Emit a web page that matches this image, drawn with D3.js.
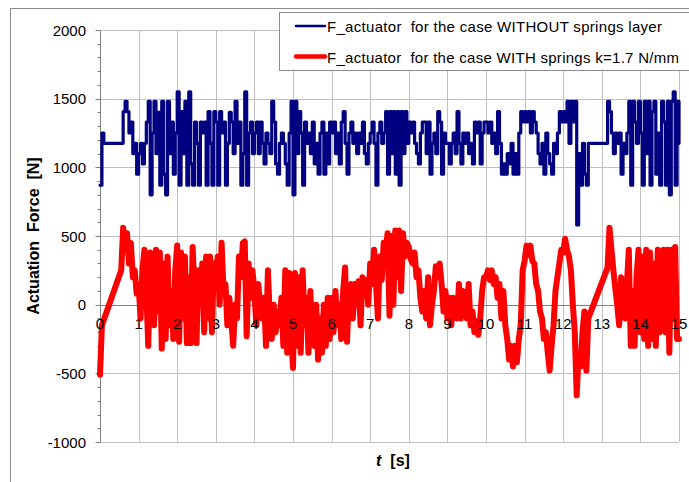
<!DOCTYPE html>
<html>
<head>
<meta charset="utf-8">
<script src="https://cdn.jsdelivr.net/npm/d3@7"></script>
<style>
    body { margin: 0; background: white; }
    text { font-family: "Liberation Sans", Arial, sans-serif; }
</style>
</head>
<body>
<div id="chart"></div>
<script>

// 1. Data (sampled every 0.05 s, null = no sample, line jumps straight across)

const tStep = 0.05;

const forceWithout = [
    // 0 s
    870, 1250, 1175, 1175, 1175, 1175, 1175, 1175, 1175, 1175, 1175, 1175, 1405, 1480, 1405, 1250, 1330, 1100, 1175, 950,
    // 1 s
    1100, 1175, 1025, 1175, 1330, 1480, 800, 1250, 1480, 1100, 1400, 870, 1480, 950, 800, 1480, 1100, 1330, 950, 1250,
    // 2 s
    1550, 870, 1405, 1100, 1480, 870, 1550, 1025, 870, 1330, 1175, 870, 1330, 1250, 1330, 870, 1405, 1175, 870, 1405,
    // 3 s
    1330, 870, 1405, 1250, 1330, 870, 1175, 1400, 1330, 1100, 1480, 1175, 1330, 870, 1100, 1550, 870, 1250, 1330, 1100,
    // 4 s
    1250, 1330, 1100, 1330, 1175, 1025, 1250, 1175, 1100, 1480, 1330, 1025, 950, 1175, 1250, 1175, 1025, 870, 1250, 1480,
    // 5 s
    800, 1480, 1100, 1405, 1250, 870, 1330, 1175, 1250, 1100, 1330, 1025, 1175, 950, 1250, 1330, 950, 1250, 1025, 1330,
    // 6 s
    1250, 1330, 1100, 1250, 1025, 1330, 1405, 1175, 950, 1250, 1330, 1175, 1250, 1100, 1250, 1175, 1330, 1100, 1025, 1175,
    // 7 s
    1250, 1330, 1175, 870, 1250, 1330, 1175, 1250, 1405, 950, 1405, 1100, 1405, 950, 1405, 870, 1405, 1100, 1405, 1175,
    // 8 s
    1330, 1250, 1330, 1175, 1100, 1025, 1250, 1330, 1330, 1100, 1330, 950, 1175, 1250, 1100, 1405, 1330, 950, 1250, 1175,
    // 9 s
    1175, 1025, 1175, 1250, 1100, 1405, 1175, 1025, 1250, 1175, 1250, 1100, 1175, 1025, 1330, 1250, 1330, 1025, 1250, 1330,
    // 10 s
    1330, 1250, 1330, 1175, 1250, 1100, 1405, 1175, 950, 1025, 950, 1100, 1025, 1175, 950, 1100, 950, 1250, 1405, 1330,
    // 11 s
    1405, 1330, 1405, 1250, 1405, 1330, 1250, 1100, 1025, 1175, 950, 1250, 1100, 1025, 950, 1175, 1100, 1250, 1405, 1330,
    // 12 s
    1405, 1330, 1480, 1175, 1480, 1330, 1480, 580, 1100, 870, 1175, 950, 870, 1175, 1175, 1175, 1175, 1175, 1175, 1175,
    // 13 s
    1175, 1175, 1175, 1480, 1405, 1250, 1100, 1250, 1175, 1250, 950, 1175, 1100, 1250, 1480, 870, 1480, 1330, 1175, 1480,
    // 14 s
    1250, 870, 1480, 1100, 1480, 870, 1405, 1480, 950, 1250, 870, 1480, 1330, 870, 1480, 800, 1480, 1550, 870, 1480,
    // 15 s
    1175
];

const forceWith = [
    // 0 s
    -510, -150, null, null, null, null, null, null, null, null, null, 250, 560, 400, 520, 300, 450, 200, 250, 80,
    // 1 s
    150, -100, 250, 400, 100, -300, 380, 50, -150, 400, -50, 380, -320, 300, -250, 350, -150, 100, -250, 250,
    // 2 s
    430, -270, 380, -100, 350, -280, 200, -280, 420, 100, -280, 250, 0, 300, -200, 350, -100, 350, -200, 300,
    // 3 s
    250, 350, 0, 450, 100, 150, -150, 50, -100, -300, 0, -100, 350, 200, 450, 460, -230, 300, 50, 250,
    // 4 s
    100, -150, 150, 0, -100, 50, -300, 250, -100, -250, 0, -200, -50, -150, 50, -300, 250, -350, 230, -200,
    // 5 s
    -460, 230, -300, 200, -350, 250, -150, 50, -350, 100, -200, -300, 0, -400, -100, -350, 0, -300, 50, -250,
    // 6 s
    50, -200, 100, -150, 0, -250, 100, 270, -270, 100, 150, -100, 150, 0, 170, -150, 200, 100, 180, 0,
    // 7 s
    300, 150, 400, 150, -100, 350, 180, 450, 380, 520, -80, 500, 0, 540, 200, 540, 100, 520, 350, 450,
    // 8 s
    420, 330, 300, 380, 200, 250, 50, -50, 100, -100, 200, -150, 0, 100, 280, 200, 300, 150, -50, 100,
    // 9 s
    -100, 50, -150, 50, -50, -100, 150, -100, 100, 0, -100, 150, -150, -50, -200, -120, -220, -100, 100, 200,
    // 10 s
    200, 250, 180, 250, 150, 200, 50, 150, -100, 100, -150, -250, -400, -300, -450, -300, -420, -250, -150, 250,
    // 11 s
    320, 430, 360, 430, 320, 300, 150, 100, -50, -100, -250, -200, -350, -480, -300, -150, 100, 200, 300, 400,
    // 12 s
    380, 480, 400, 350, 250, 0, -200, -660, -350, -450, -200, -50, -480, -100, null, null, null, null, null, null,
    // 13 s
    null, null, null, 270, 560, 400, 250, 120, 0, -150, 200, 100, -100, 150, 400, -300, 100, -300, 200, 400,
    // 14 s
    -200, 350, -250, 400, -300, 380, -250, 300, -300, 400, -200, 100, 400, -200, 400, -350, 400, -100, 420, -250,
    // 15 s
    -250
];

const xTickValues = [0, 1, 2, 3, 4, 5, 6, 7, 8, 9, 10, 11, 12, 13, 14, 15];
const yTickValues = [-1000, -500, 0, 500, 1000, 1500, 2000];
const yMinorValues = d3.range(-1000, 2001, 100);

const seriesNames = [
    "F_actuator  for the case WITHOUT springs layer",
    "F_actuator  for the case WITH springs k=1.7 N/mm"
];
const seriesColors = ["#000080", "#ff0000"];
const seriesWidths = [3.2, 6];
const legendTextWidths = [335, 352];

// 2. Dimensions

const dimensions = {
    width: 689,
    height: 482,
    margin: { top: 30, right: 10, bottom: 40, left: 100 },
};
dimensions.plotRight = 679;
dimensions.plotBottom = 442;

// 3. Canvas

const chart = d3.select("#chart")
    .append("svg")
    .attr("width", dimensions.width)
    .attr("height", dimensions.height);

// outer frame (runs off the right and bottom edge)
chart.append("rect")
    .attr("x", 10.5)
    .attr("y", 8.5)
    .attr("width", 720)
    .attr("height", 520)
    .attr("fill", "white")
    .attr("stroke", "#8c8c8c");

// 4. Scales

const xScale = d3.scaleLinear()
    .domain([0, 15])
    .range([dimensions.margin.left, dimensions.plotRight]);

const yScale = d3.scaleLinear()
    .domain([-1000, 2000])
    .range([dimensions.plotBottom, dimensions.margin.top]);

// 5. Grid and axes

const grid = chart.append("g");

grid.selectAll("line.vgrid")
    .data(xTickValues.filter(d => d > 0))
    .join("line")
    .attr("class", "vgrid")
    .attr("x1", d => Math.round(xScale(d)) + 0.5)
    .attr("x2", d => Math.round(xScale(d)) + 0.5)
    .attr("y1", yScale(2000))
    .attr("y2", yScale(-1000))
    .attr("stroke", "#c0c0c0")
    .attr("stroke-width", 1);

grid.selectAll("line.hgrid")
    .data(yTickValues.filter(d => d !== 0))
    .join("line")
    .attr("class", "hgrid")
    .attr("x1", xScale(0))
    .attr("x2", xScale(15))
    .attr("y1", d => Math.round(yScale(d)) + 0.5)
    .attr("y2", d => Math.round(yScale(d)) + 0.5)
    .attr("stroke", "#c0c0c0")
    .attr("stroke-width", 1);

// y axis with major and minor ticks
const yAxis = chart.append("g")
    .attr("transform", `translate(${xScale(0) + 0.5}, 0.5)`);

yAxis.append("line")
    .attr("y1", yScale(2000))
    .attr("y2", yScale(-1000))
    .attr("stroke", "#808080");

yAxis.selectAll("line.minor")
    .data(yMinorValues)
    .join("line")
    .attr("class", "minor")
    .attr("x1", d => yTickValues.includes(d) ? -5 : -3)
    .attr("x2", 0)
    .attr("y1", d => Math.round(yScale(d)))
    .attr("y2", d => Math.round(yScale(d)))
    .attr("stroke", "#808080");

chart.selectAll("text.ytick")
    .data(yTickValues)
    .join("text")
    .attr("class", "ytick")
    .attr("x", 86)
    .attr("y", d => yScale(d) + 5.5)
    .attr("text-anchor", "end")
    .style("font-size", "15px")
    .style("fill", "#000")
    .text(d => d);

// x axis sits on the zero line
chart.append("line")
    .attr("x1", xScale(0))
    .attr("x2", xScale(15))
    .attr("y1", Math.round(yScale(0)) + 0.5)
    .attr("y2", Math.round(yScale(0)) + 0.5)
    .attr("stroke", "#808080");

// 6. Data lines

const toPoints = values => values
    .map((v, i) => ({ t: i * tStep, v }))
    .filter(d => d.v !== null);

// the actuator without springs switches between discrete levels -> steps
const lineSteps = d3.line()
    .x(d => xScale(d.t))
    .y(d => yScale(d.v))
    .curve(d3.curveStepAfter);

const lineStraight = d3.line()
    .x(d => xScale(d.t))
    .y(d => yScale(d.v));

const lineGens = [lineSteps, lineStraight];

[forceWithout, forceWith].forEach((values, i) => {
    chart.append("path")
        .datum(toPoints(values))
        .attr("d", lineGens[i])
        .attr("fill", "none")
        .attr("stroke", seriesColors[i])
        .attr("stroke-width", seriesWidths[i])
        .attr("stroke-linejoin", "round")
        .attr("stroke-linecap", "round");
});

// x tick labels drawn over the lines, just under the zero line
chart.selectAll("text.xtick")
    .data(xTickValues)
    .join("text")
    .attr("class", "xtick")
    .attr("x", d => xScale(d))
    .attr("y", yScale(0) + 24)
    .attr("text-anchor", "middle")
    .style("font-size", "15px")
    .style("fill", "#000")
    .text(d => d);

// 7. Titles

chart.append("text")
    .attr("transform", `translate(39, 236) rotate(-90)`)
    .attr("text-anchor", "middle")
    .style("font-size", "16px")
    .style("font-weight", "bold")
    .style("white-space", "pre")
    .text("Actuation  Force  [N]");

const xTitle = chart.append("text")
    .attr("x", 393)
    .attr("y", 466)
    .attr("text-anchor", "middle")
    .style("font-size", "16px")
    .style("font-weight", "bold")
    .style("white-space", "pre");
xTitle.append("tspan").style("font-style", "italic").text("t");
xTitle.append("tspan").text("  [s]");

// 8. Legend

const legend = chart.append("g");

legend.append("rect")
    .attr("x", 279.5)
    .attr("y", 12.5)
    .attr("width", 420)
    .attr("height", 58)
    .attr("fill", "white")
    .attr("stroke", "#8c8c8c");

const legendRows = [26, 56.5];

legend.selectAll("line.key")
    .data(seriesNames)
    .join("line")
    .attr("class", "key")
    .attr("x1", 296)
    .attr("x2", 325)
    .attr("y1", (d, i) => legendRows[i])
    .attr("y2", (d, i) => legendRows[i])
    .attr("stroke", (d, i) => seriesColors[i])
    .attr("stroke-width", (d, i) => i === 0 ? 2.5 : 4.5)
    .attr("stroke-linecap", "round");

legend.selectAll("text.key")
    .data(seriesNames)
    .join("text")
    .attr("class", "key")
    .attr("x", 327)
    .attr("y", (d, i) => legendRows[i] + 6)
    .attr("textLength", (d, i) => legendTextWidths[i])
    .attr("lengthAdjust", "spacing")
    .style("font-size", "15px")
    .style("white-space", "pre")
    .text(d => d);

</script>
</body>
</html>
